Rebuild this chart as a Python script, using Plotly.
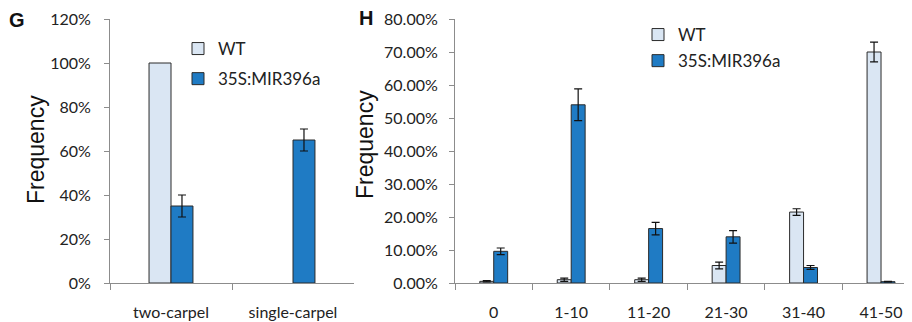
import plotly.graph_objects as go

# ---- data ----
g_categories = ["two-carpel", "single-carpel"]
g_wt = [100, 0]
g_wt_err = [0, 0]
g_mir = [35, 65]
g_mir_err = [5, 5]

h_categories = ["0", "1-10", "11-20", "21-30", "31-40", "41-50"]
h_wt = [0.5, 1.0, 1.0, 5.3, 21.5, 70.0]
h_wt_err = [0.2, 0.5, 0.5, 1.0, 1.0, 3.0]
h_mir = [9.6, 54.0, 16.5, 14.0, 4.7, 0.4]
h_mir_err = [1.0, 4.8, 1.9, 1.9, 0.6, 0.1]

g_ticks = [0, 20, 40, 60, 80, 100, 120]
g_ticklabels = ["0%", "20%", "40%", "60%", "80%", "100%", "120%"]
h_ticks = [0, 10, 20, 30, 40, 50, 60, 70, 80]
h_ticklabels = ["0.00%", "10.00%", "20.00%", "30.00%", "40.00%", "50.00%", "60.00%", "70.00%", "80.00%"]

WT_COLOR = "#dae6f3"
MIR_COLOR = "#1f7bc4"
EDGE = "#2a2a2a"
AXIS = "#8c8c8c"
TICKFONT = dict(family="Lato, Open Sans, sans-serif", size=16, color="#222")
TITLEFONT = dict(family="Liberation Sans, Arial, sans-serif", size=23, color="#111")
LEGFONT = dict(family="Lato, Open Sans, sans-serif", size=17, color="#222")

# the page body adds an 8px margin, so the figure is 8px smaller than the window
W, H = 904, 314

def px(xr):  # reference x pixel -> paper fraction
    return (xr - 8) / W

def py(yr):  # reference y pixel -> paper fraction
    return 1 - (yr - 8) / H

fig = go.Figure()

def err(vals):
    return dict(type="data", array=vals, visible=any(v > 0 for v in vals), color="#111", thickness=1.2, width=4)

def edge_widths(vals):
    return [1 if v > 0 else 0 for v in vals]

fig.add_trace(go.Bar(x=g_categories, y=g_wt, name="WT",
                     marker=dict(color=WT_COLOR, line=dict(color=EDGE, width=edge_widths(g_wt))),
                     error_y=err(g_wt_err), xaxis="x", yaxis="y", legend="legend", legendgroup="a"))
fig.add_trace(go.Bar(x=g_categories, y=g_mir, name="35S:MIR396a",
                     marker=dict(color=MIR_COLOR, line=dict(color=EDGE, width=1)),
                     error_y=err(g_mir_err), xaxis="x", yaxis="y", legend="legend", legendgroup="b"))
fig.add_trace(go.Bar(x=h_categories, y=h_wt, name="WT",
                     marker=dict(color=WT_COLOR, line=dict(color=EDGE, width=1)),
                     error_y=err(h_wt_err), xaxis="x2", yaxis="y2", legend="legend2", legendgroup="c"))
fig.add_trace(go.Bar(x=h_categories, y=h_mir, name="35S:MIR396a",
                     marker=dict(color=MIR_COLOR, line=dict(color=EDGE, width=1)),
                     error_y=err(h_mir_err), xaxis="x2", yaxis="y2", legend="legend2", legendgroup="d"))

ydom = [py(283), py(19)]

common_x = dict(type="category", showline=True, linecolor=AXIS, linewidth=1, ticks="outside", tickson="boundaries",
                ticklen=6, tickcolor=AXIS, tickfont=TICKFONT, showgrid=False, zeroline=False,
                ticklabelstandoff=15, automargin=False)
common_y = dict(showline=True, linecolor=AXIS, linewidth=1, ticks="outside", ticklen=5, tickcolor=AXIS,
                tickfont=TICKFONT, showgrid=False, zeroline=False, domain=ydom, automargin=False)

fig.update_layout(
    width=W, height=H, margin=dict(l=0, r=0, t=0, b=0, autoexpand=False),
    paper_bgcolor="white", plot_bgcolor="white",
    barmode="group",
    xaxis=dict(**common_x, domain=[px(110), px(354)], anchor="y", range=[-0.5, 1.5]),
    yaxis=dict(**common_y, anchor="x", range=[0, 120], tickvals=g_ticks, ticktext=g_ticklabels, ticklabelstandoff=10),
    xaxis2=dict(**common_x, domain=[px(455), 1.0], anchor="y2", range=[-0.5, 5.4]),
    yaxis2=dict(**common_y, anchor="x2", range=[0, 80], tickvals=h_ticks, ticktext=h_ticklabels, ticklabelstandoff=8),
    bargap=0.64,
    legend=dict(x=px(178), y=py(31), xanchor="left", yanchor="top", bgcolor="rgba(0,0,0,0)",
                font=LEGFONT, tracegroupgap=5),
    legend2=dict(x=px(638), y=py(17), xanchor="left", yanchor="top", bgcolor="rgba(0,0,0,0)",
                 font=LEGFONT, tracegroupgap=1),
    annotations=[
        dict(text="<b>G</b>", x=px(17), y=py(20), xref="paper", yref="paper", showarrow=False,
             xanchor="center", yanchor="middle", borderpad=0,
             font=dict(family="Liberation Sans, Arial, sans-serif", size=20, color="#111")),
        dict(text="<b>H</b>", x=px(366), y=py(18), xref="paper", yref="paper", showarrow=False,
             xanchor="center", yanchor="middle", borderpad=0,
             font=dict(family="Liberation Sans, Arial, sans-serif", size=20, color="#111")),
        dict(text="Frequency", x=px(36), y=py(150), xref="paper", yref="paper", showarrow=False, textangle=-90,
             xanchor="center", yanchor="middle", font=TITLEFONT),
        dict(text="Frequency", x=px(365), y=py(145), xref="paper", yref="paper", showarrow=False, textangle=-90,
             xanchor="center", yanchor="middle", font=TITLEFONT),
    ],
)

fig.write_html("out.html")
